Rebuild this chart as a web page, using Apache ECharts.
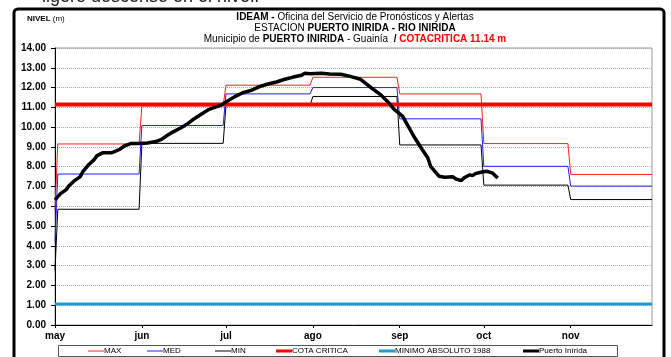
<!DOCTYPE html>
<html>
<head>
<meta charset="utf-8">
<script src="https://cdn.jsdelivr.net/npm/echarts@6/dist/echarts.min.js"></script>
<style>
  html, body { margin: 0; padding: 0; background: #fff; }
  #chart { width: 671px; height: 357px; }
</style>
</head>
<body>
<div id="chart"></div>
<script>
// Month starts as day offsets from 1 May; the axis ends on 30 Nov.
const monthStarts = [0, 31, 61, 92, 123, 153, 184];
const monthLabels = ['may', 'jun', 'jul', 'ago', 'sep', 'oct', 'nov'];
const lastDay = 213;

// Monthly historical levels (m), May..Nov, plus the value on the first day.
const maxMonthly = [9.15, 11.08, 12.12, 12.52, 11.68, 9.17, 7.61];
const medMonthly = [7.63, 10.08, 11.68, 12.00, 10.42, 8.02, 7.02];
const minMonthly = [5.85, 9.18, 11.10, 11.55, 9.10, 7.07, 6.34];
const maxFirstDay = 5.83;
const medFirstDay = 4.22;
const minFirstDay = 2.76;

// Reference levels
const cotaCritica = 11.14;
const minimoAbsoluto1988 = 1.06;

// Observed stage at Puerto Inírida (day offset from 1 May, level in m)
const obsDays = [0, 2, 4, 5, 7, 9, 10, 12, 14, 15, 17, 20, 21, 23, 25, 27, 30, 33, 36, 38,
  40, 42, 45, 47, 49, 52, 55, 59, 61, 64, 67, 70, 73, 76, 79, 82, 85, 88, 89, 91,
  95, 98, 102, 105, 109, 112, 116, 119, 121, 124, 126, 128, 131, 133, 134, 136, 137, 139, 142, 143,
  145, 146, 148, 149, 150, 152, 154, 156, 157, 158];
const obsLevels = [6.32, 6.64, 6.84, 7.04, 7.30, 7.50, 7.77, 8.10, 8.36, 8.56, 8.70, 8.70, 8.75, 8.87, 9.07, 9.17, 9.17, 9.20, 9.27, 9.38,
  9.58, 9.75, 9.97, 10.14, 10.36, 10.64, 10.90, 11.10, 11.27, 11.53, 11.74, 11.86, 12.05, 12.18, 12.28, 12.42, 12.53, 12.62, 12.72, 12.70,
  12.72, 12.69, 12.67, 12.58, 12.42, 12.08, 11.66, 11.24, 10.90, 10.56, 10.05, 9.54, 8.87, 8.45, 8.02, 7.69, 7.52, 7.47, 7.49, 7.38,
  7.30, 7.44, 7.59, 7.55, 7.65, 7.72, 7.77, 7.69, 7.55, 7.44];

// Y axis tick values
const yTicks = [0, 1, 2, 3, 4, 5, 6, 7, 8, 9, 10, 11, 12, 13, 14];

function stepLine(firstDayValue, monthly) {
  const pts = [[0, firstDayValue]];
  monthly.forEach((v, i) => {
    const s = i === 0 ? 1 : monthStarts[i];
    const e = i < monthly.length - 1 ? monthStarts[i + 1] - 1 : lastDay;
    pts.push([s, v], [e, v]);
  });
  return pts;
}

const FONT = 'Liberation Sans';
const chart = echarts.init(document.getElementById('chart'), null, { renderer: 'canvas' });

// One legend per entry so each sits where it belongs in the framed strip
function legendItem(name, left, thickness) {
  return {
    left: left, top: 346, padding: 0, itemWidth: 16, itemHeight: thickness, itemGap: 0,
    icon: 'rect',
    textStyle: { fontFamily: FONT, fontSize: 8, color: '#000', padding: [0, 0, 0, -5], lineHeight: 10 },
    data: [name]
  };
}

const lineSeries = (name, data, color, width, z) => ({
  name, type: 'line', data, symbol: 'none', showSymbol: false, z,
  lineStyle: { color, width }, itemStyle: { color },
  animation: false
});

chart.setOption({
  animation: false,
  backgroundColor: '#fff',
  grid: { left: 55, right: 19, top: 48, bottom: 32, show: true, borderColor: '#9a9a9a', borderWidth: 1 },
  xAxis: {
    type: 'value', min: 0, max: lastDay,
    axisLine: { lineStyle: { color: '#000', width: 1 } },
    axisTick: { show: true, length: 3, lineStyle: { color: '#000' }, customValues: monthStarts },
    axisLabel: {
      customValues: monthStarts, margin: 6,
      fontFamily: FONT, fontSize: 10, fontWeight: 'bold', color: '#000',
      formatter: v => monthLabels[monthStarts.indexOf(v)] || ''
    },
    splitLine: { show: false }
  },
  yAxis: {
    type: 'value', min: yTicks[0], max: yTicks[yTicks.length - 1], interval: 1,
    axisLine: { show: true, lineStyle: { color: '#000', width: 1 } },
    axisTick: { show: true, length: 4, lineStyle: { color: '#000' } },
    axisLabel: {
      margin: 9, fontFamily: FONT, fontSize: 10, fontWeight: 'bold', color: '#000',
      formatter: v => v.toFixed(2)
    },
    splitLine: { show: true, lineStyle: { color: '#a8a8a8', type: 'dotted', width: 1 } }
  },
  legend: [
    legendItem('MAX', 88, 1),
    legendItem('MED', 147, 1),
    legendItem('MIN', 215, 1),
    legendItem('COTA CRITICA', 276, 3),
    legendItem('MINIMO ABSOLUTO 1988', 379, 3),
    legendItem('Puerto Inírida', 523, 3)
  ],
  series: [
    lineSeries('MAX', stepLine(maxFirstDay, maxMonthly), '#ff2020', 1, 2),
    lineSeries('MED', stepLine(medFirstDay, medMonthly), '#2020ff', 1, 2),
    lineSeries('MIN', stepLine(minFirstDay, minMonthly), '#000000', 1, 2),
    lineSeries('COTA CRITICA', [[0, cotaCritica], [lastDay, cotaCritica]], '#ff0000', 4, 3),
    lineSeries('MINIMO ABSOLUTO 1988', [[0, minimoAbsoluto1988], [lastDay, minimoAbsoluto1988]], '#1f9ad6', 3, 3),
    lineSeries('Puerto Inírida', obsDays.map((d, i) => [d, obsLevels[i]]), '#000000', 3.5, 4)
  ],
  graphic: [
    {
      type: 'text', left: 42, top: -12, silent: true,
      style: { text: 'ligero descenso en el nivel.', font: '18px "Liberation Sans"', fill: '#1a1a1a' }
    },
    {
      type: 'rect', silent: true, z: 0,
      shape: { x: 14, y: 9, width: 650, height: 360, r: 4 },
      style: { fill: 'none', stroke: '#000', lineWidth: 3 }
    },
    {
      type: 'rect', silent: true, z: 0,
      shape: { x: 58.5, y: 345.5, width: 559, height: 11 },
      style: { fill: 'none', stroke: '#555', lineWidth: 1 }
    },
    {
      type: 'text', silent: true, x: 27, y: 19,
      style: {
        text: '{b|NIVEL} (m)', fontFamily: FONT, fontSize: 8, fill: '#000',
        verticalAlign: 'middle', rich: { b: { fontFamily: FONT, fontSize: 8, fontWeight: 'bold', fill: '#000' } }
      }
    },
    {
      type: 'text', silent: true, x: 355, y: 17,
      style: {
        text: '{b|IDEAM -} Oficina del Servicio de Pronósticos y Alertas',
        fontFamily: FONT, fontSize: 10, fill: '#000', align: 'center', verticalAlign: 'middle',
        rich: { b: { fontFamily: FONT, fontSize: 10, fontWeight: 'bold', fill: '#000' } }
      }
    },
    {
      type: 'text', silent: true, x: 355, y: 28,
      style: {
        text: 'ESTACION {b|PUERTO INIRIDA - RIO INIRIDA}',
        fontFamily: FONT, fontSize: 10, fill: '#000', align: 'center', verticalAlign: 'middle',
        rich: { b: { fontFamily: FONT, fontSize: 10, fontWeight: 'bold', fill: '#000' } }
      }
    },
    {
      type: 'text', silent: true, x: 355, y: 39,
      style: {
        text: 'Municipio de {b|PUERTO INIRIDA} - Guainía  {b|/} {r|COTACRITICA 11.14 m}',
        fontFamily: FONT, fontSize: 10, fill: '#000', align: 'center', verticalAlign: 'middle',
        rich: {
          b: { fontFamily: FONT, fontSize: 10, fontWeight: 'bold', fill: '#000' },
          r: { fontFamily: FONT, fontSize: 10, fontWeight: 'bold', fill: '#ff0000' }
        }
      }
    }
  ]
});
</script>
</body>
</html>
